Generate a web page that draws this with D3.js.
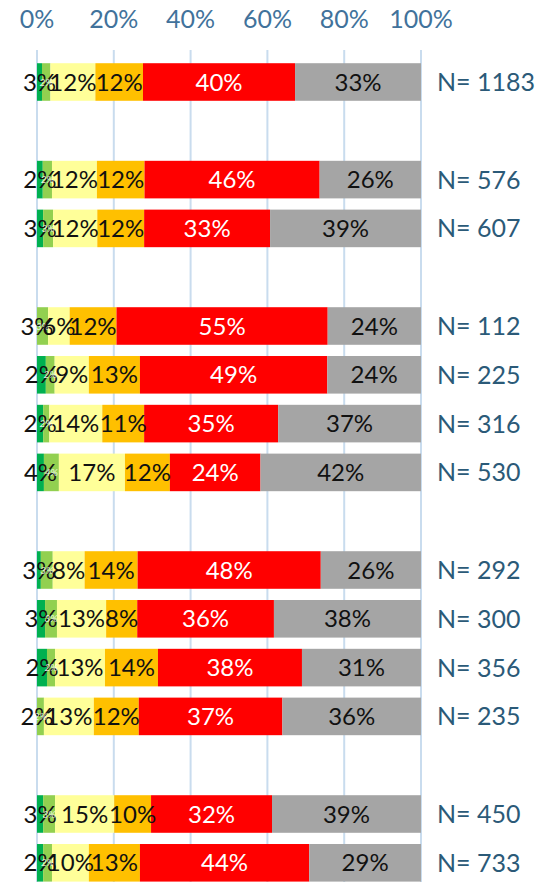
<!DOCTYPE html>
<html>
<head>
<meta charset="utf-8">
<script src="https://cdn.jsdelivr.net/npm/d3@7"></script>
<style>
  body { margin: 0; background: #fff; }
  text { font-family: Lato, "Open Sans", sans-serif; }
</style>
</head>
<body>
<svg id="chart"></svg>
<script>
const width = 538;
const height = 882;

// one entry per slot, "" = empty gap row
const rows = ["N= 1183", "", "N= 576", "N= 607", "", "N= 112", "N= 225", "N= 316", "N= 530", "",
              "N= 292", "N= 300", "N= 356", "N= 235", "", "N= 450", "N= 733"];

// segment shares (%) for the filled rows, in order
const darkGreen  = [1.3, 1.5, 1.6, 0,    2.3, 1.6, 1.8, 1.0, 2.1, 2.6, 0,    1.6, 1.6];
const lightGreen = [2.2, 2.4, 2.6, 2.9,  2.3, 1.6, 3.9, 3.1, 3.1, 2.1, 1.8,  3.1, 2.3];
const yellow     = [11.7, 11.7, 11.5, 5.6, 8.9, 13.8, 17.2, 8.3, 12.8, 13.0, 13.0, 15.4, 9.6];
const orange     = [12.4, 12.4, 12.2, 12.2, 13.3, 10.9, 11.7, 13.8, 8.1, 13.8, 11.7, 9.6, 13.3];
const red        = [39.6, 45.6, 32.8, 55.0, 48.8, 34.9, 23.6, 47.7, 35.6, 37.5, 37.4, 31.5, 44.1];
const gray       = [32.8, 26.4, 39.3, 24.3, 24.4, 37.2, 41.8, 26.1, 38.3, 31.0, 36.1, 38.8, 29.1];

// labels printed at the dark green position
const darkGreenLabels = ["3%", "2%", "3%", "3%", "2%", "2%", "4%", "3%", "3%", "2%", "2%", "3%", "2%"];

const ticks = [0, 20, 40, 60, 80, 100];

const keys = ["darkGreen", "lightGreen", "yellow", "orange", "red", "gray"];
const colors = ["#00b050", "#92d050", "#ffff99", "#ffc000", "#ff0000", "#a5a5a5"];

const svg = d3.select("#chart")
  .attr("width", width)
  .attr("height", height);

const x = d3.scaleLinear().domain([0, 100]).range([37, 421]);
const y = d3.scaleBand()
  .domain(d3.range(rows.length))
  .range([57.6, 887.2])
  .paddingInner(0.23)
  .paddingOuter(0.115);

// build table of filled rows
let k = 0;
const data = [];
rows.forEach((r, i) => {
  if (r === "") return;
  data.push({
    slot: i, label: r, dgLabel: darkGreenLabels[k],
    darkGreen: darkGreen[k], lightGreen: lightGreen[k], yellow: yellow[k],
    orange: orange[k], red: red[k], gray: gray[k]
  });
  k++;
});

const stack = d3.stack().keys(keys)(data);

// gridlines
svg.append("g")
  .selectAll("line")
  .data(ticks)
  .join("line")
  .attr("x1", (d) => x(d))
  .attr("x2", (d) => x(d))
  .attr("y1", 50)
  .attr("y2", height)
  .style("stroke", "#c9dcee")
  .style("stroke-width", 2);

// tick labels
svg.append("g")
  .selectAll("text")
  .data(ticks)
  .join("text")
  .attr("x", (d) => x(d))
  .attr("y", 28)
  .attr("text-anchor", "middle")
  .attr("font-size", "25px")
  .attr("fill", "#41729b")
  .text((d) => d + "%");

// bars
const layer = svg.append("g")
  .selectAll("g")
  .data(stack)
  .join("g")
  .attr("fill", (d, i) => colors[i]);

layer.selectAll("rect")
  .data((d) => d)
  .join("rect")
  .attr("x", (d) => x(d[0]))
  .attr("y", (d) => y(d.data.slot))
  .attr("width", (d) => x(d[1]) - x(d[0]))
  .attr("height", y.bandwidth());

// value labels
const labels = svg.append("g");
stack.forEach((s) => {
  const key = s.key;
  labels.append("g")
    .selectAll("text")
    .data(s)
    .join("text")
    .attr("x", (d) => (x(d[0]) + x(d[1])) / 2)
    .attr("y", (d) => y(d.data.slot) + y.bandwidth() / 2)
    .attr("dy", "0.36em")
    .attr("text-anchor", "middle")
    .attr("font-size", key === "lightGreen" ? "10px" : "24px")
    .attr("font-style", key === "lightGreen" ? "italic" : null)
    .attr("fill", key === "red" ? "#fff" : key === "lightGreen" ? "rgba(255,255,255,0.85)" : "#111")
    .text((d) => key === "darkGreen" ? d.data.dgLabel : Math.round(d.data[key]) + "%");
});

// N labels
svg.append("g")
  .selectAll("text")
  .data(data)
  .join("text")
  .attr("x", 437)
  .attr("y", (d) => y(d.slot) + y.bandwidth() / 2)
  .attr("dy", "0.36em")
  .attr("font-size", "25px")
  .attr("fill", "#2b5a78")
  .text((d) => d.label);
</script>
</body>
</html>
